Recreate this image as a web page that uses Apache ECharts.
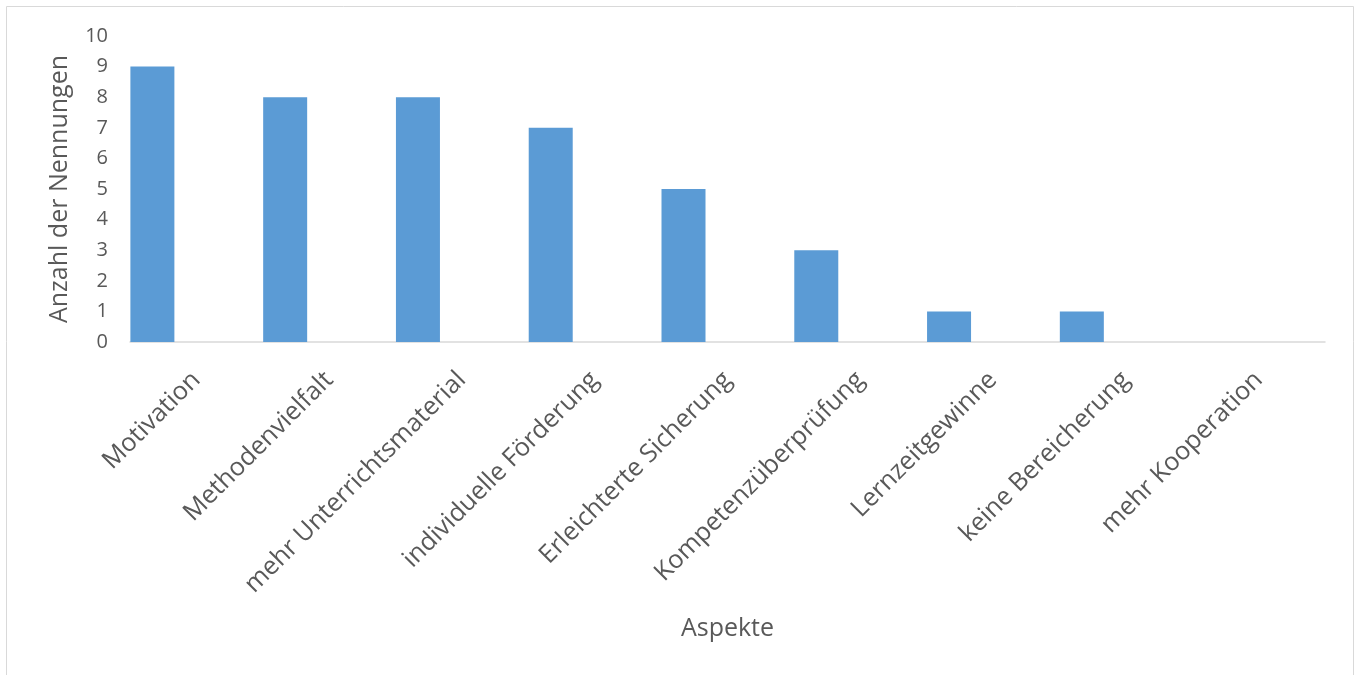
<!DOCTYPE html>
<html>
<head>
<meta charset="utf-8">
<script src="https://cdn.jsdelivr.net/npm/echarts@6/dist/echarts.min.js"></script>
<style>
html,body{margin:0;padding:0;background:#fff;}
#chart{width:1359px;height:675px;}
</style>
</head>
<body>
<div id="chart"></div>
<script>
const categories = ["Motivation","Methodenvielfalt","mehr Unterrichtsmaterial","individuelle Förderung","Erleichterte Sicherung","Kompetenzüberprüfung","Lernzeitgewinne","keine Bereicherung","mehr Kooperation"];
const nennungen = [9,8,8,7,5,3,1,1,0];
const placeholder = [];
const yTicks = [0,10,1];

const chart = echarts.init(document.getElementById('chart'));
const txt = '#595959';
const font = '"Open Sans", sans-serif';
chart.setOption({
  animation: false,
  textStyle: { fontFamily: font },
  graphic: [{
    type: 'rect', silent: true,
    shape: { x: 6.5, y: 6.5, width: 1347, height: 720 },
    style: { fill: 'none', stroke: '#d9d9d9', lineWidth: 1 }
  }],
  grid: { left: 130, right: 34, top: 36, bottom: 333, containLabel: false },
  xAxis: {
    type: 'category',
    data: categories,
    name: 'Aspekte',
    nameLocation: 'middle',
    nameGap: 274,
    nameTextStyle: { color: txt, fontSize: 25, fontFamily: font },
    axisLine: { show: true, lineStyle: { color: '#d9d9d9', width: 1.5 } },
    axisTick: { show: false },
    axisLabel: { rotate: 45, interval: 0, margin: 34, color: txt, fontSize: 25.3, fontFamily: font }
  },
  yAxis: {
    type: 'value',
    min: yTicks[0], max: yTicks[1], interval: yTicks[2],
    name: 'Anzahl der Nennungen',
    nameLocation: 'middle',
    nameGap: 58,
    nameRotate: 90,
    nameTextStyle: { color: txt, fontSize: 25, fontFamily: font },
    axisLine: { show: false },
    axisTick: { show: false },
    splitLine: { show: false },
    axisLabel: { margin: 22, color: txt, fontSize: 20, fontFamily: font }
  },
  series: [
    { name: 'Nennungen', type: 'bar', data: nennungen, barWidth: 44, barGap: '100%', itemStyle: { color: '#5b9bd5' } },
    { name: 'Leer', type: 'bar', data: placeholder, barWidth: 44, itemStyle: { color: '#ed7d31' } }
  ]
});
</script>
</body>
</html>
